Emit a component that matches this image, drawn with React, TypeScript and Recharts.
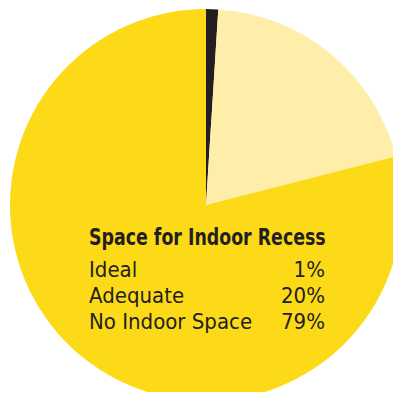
import { Pie, PieChart, Cell } from "recharts";

const categories = ["Ideal", "Adequate", "No Indoor Space"];
const shares = [1, 20, 79];
const colors = ["#231F20", "#FFEEAA", "#FDDA17"];
const title = "Space for Indoor Recess";

const data = categories.map((name, i) => ({ name, value: shares[i] }));

const font = "'Liberation Sans Narrow', 'DejaVu Sans Condensed', 'Roboto', sans-serif";

export default function App() {
  return (
    <div style={{ position: "relative", width: 401, height: 400, margin: -8, overflow: "hidden", background: "#fff" }}>
      <PieChart width={401} height={400} margin={{ top: 0, right: 0, bottom: 0, left: 0 }}>
        <Pie
          data={data}
          dataKey="value"
          cx={206}
          cy={205}
          innerRadius={0}
          outerRadius={196}
          startAngle={90}
          endAngle={-270}
          stroke="none"
          isAnimationActive={false}
        >
          {data.map((d, i) => (
            <Cell key={d.name} fill={colors[i]} />
          ))}
        </Pie>
      </PieChart>
      <div
        style={{
          position: "absolute",
          left: 89,
          top: 224,
          width: 236,
          fontFamily: font,
          color: "#231F20",
        }}
      >
        <div
          style={{
            fontWeight: "bold",
            fontSize: 23,
            lineHeight: "26px",
            marginBottom: 7,
            whiteSpace: "nowrap",
            transform: "scaleX(0.84)",
            transformOrigin: "left",
          }}
        >
          {title}
        </div>
        {data.map((d) => (
          <div
            key={d.name}
            style={{ display: "flex", justifyContent: "space-between", fontSize: 22, lineHeight: "26px" }}
          >
            <span>{d.name}</span>
            <span>{d.value}%</span>
          </div>
        ))}
      </div>
    </div>
  );
}
